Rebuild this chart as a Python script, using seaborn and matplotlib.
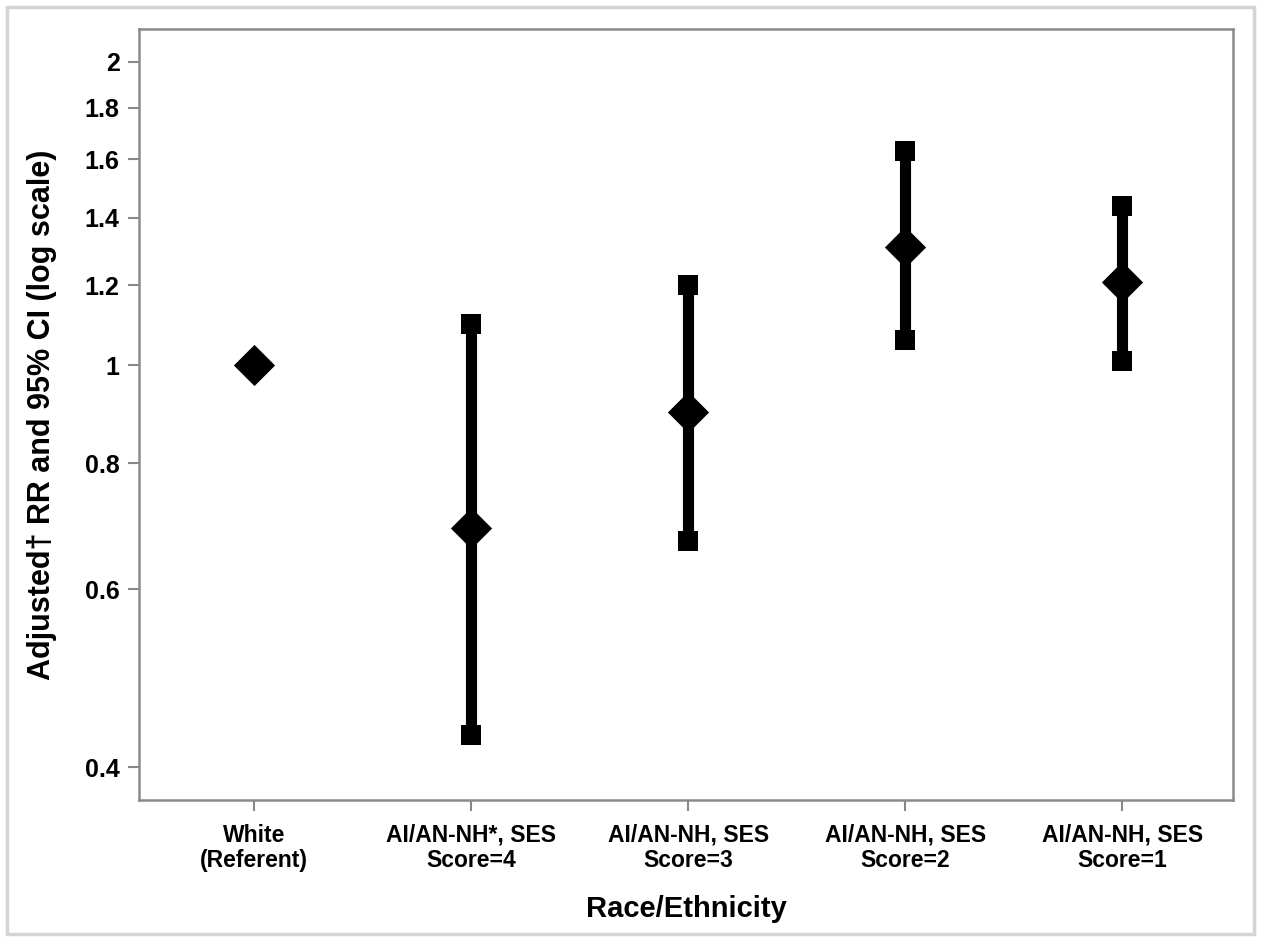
import matplotlib
matplotlib.use("Agg")
import matplotlib.pyplot as plt
import matplotlib.patches as patches
import seaborn as sns
import pandas as pd

groups = ["White\n(Referent)", "AI/AN-NH*, SES\nScore=4", "AI/AN-NH, SES\nScore=3",
          "AI/AN-NH, SES\nScore=2", "AI/AN-NH, SES\nScore=1"]
rr = [1.00, 0.69, 0.90, 1.31, 1.21]
ci_low = [None, 0.43, 0.67, 1.06, 1.01]
ci_high = [None, 1.10, 1.20, 1.63, 1.44]
yticks = [0.4, 0.6, 0.8, 1, 1.2, 1.4, 1.6, 1.8, 2]

sns.set_style("white")
plt.rcParams["font.family"] = ["Liberation Sans", "DejaVu Sans"]
plt.rcParams["font.weight"] = "bold"
plt.rcParams["text.color"] = "black"
plt.rcParams["axes.labelcolor"] = "black"
plt.rcParams["xtick.labelcolor"] = "black"
plt.rcParams["ytick.labelcolor"] = "black"

df = pd.DataFrame({"pos": range(len(groups)), "rr": rr, "lo": ci_low, "hi": ci_high})
ci = df.dropna()

fig = plt.figure(figsize=(12.61, 9.40), dpi=100)
ax = fig.add_axes([0.1102, 0.1489, 0.8676, 0.8202])

ax.vlines(ci["pos"], ci["lo"], ci["hi"], color="black", linewidth=8, zorder=2)
caps = pd.concat([ci[["pos", "lo"]].rename(columns={"lo": "v"}),
                  ci[["pos", "hi"]].rename(columns={"hi": "v"})])
sns.scatterplot(data=caps, x="pos", y="v", marker="s", s=190, color="black",
                edgecolor="black", linewidth=0, ax=ax, zorder=3)
sns.scatterplot(data=df, x="pos", y="rr", marker="D", s=440, color="black",
                edgecolor="black", linewidth=0, ax=ax, zorder=4)

ax.set_yscale("log")
ax.set_ylim(0.371, 2.154)
ax.set_xlim(-0.53, 4.51)
ax.set_yticks(yticks)
ax.set_yticklabels([f"{t:g}" for t in yticks])
ax.minorticks_off()
ax.set_xticks(range(len(groups)))
ax.set_xticklabels(groups, fontsize=16.5, fontweight="bold", linespacing=1.15)
ax.tick_params(axis="y", labelsize=18)
ax.tick_params(axis="x", pad=9)
ax.tick_params(axis="both", direction="out", length=8, width=1.5, color="#888888",
               left=True, bottom=True)
ax.tick_params(axis="y", pad=6)
for sp in ax.spines.values():
    sp.set_color("#8a8a8a")
    sp.set_linewidth(1.8)

ax.set_xlabel("Race/Ethnicity", fontsize=21, fontweight="bold", labelpad=16)
ax.set_ylabel("Adjusted\u2020 RR and 95% CI (log scale)", fontsize=22,
              fontweight="bold", labelpad=20)

fig.patches.append(patches.Rectangle((0.0055, 0.006), 0.989, 0.987, transform=fig.transFigure,
                                     fill=False, edgecolor="#d4d4d4", linewidth=2.5))

fig.savefig("out.png", dpi=100)
